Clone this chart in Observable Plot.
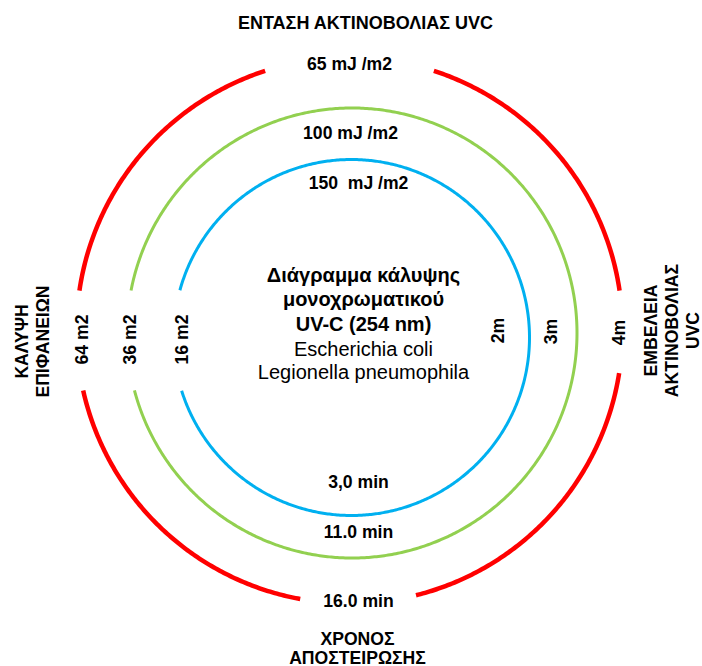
<!DOCTYPE html>
<html><head><meta charset="utf-8">
<script src="https://cdn.jsdelivr.net/npm/d3@7"></script>
<script src="https://cdn.jsdelivr.net/npm/@observablehq/plot@0.6"></script>
<style>html,body{margin:0;padding:0;background:#fff} svg{display:block}</style>
</head><body><div id="chart"></div>
<script>
// ---- data ----
const ringNames = ["2m", "3m", "4m"];
const ringColors = ["#00b0f0", "#92d050", "#ff0000"];
const doseLabels = ["150  mJ /m2", "100 mJ /m2", "65 mJ /m2"];
const timeLabels = ["3,0 min", "11.0 min", "16.0 min"];
const areaLabels = ["16 m2", "36 m2", "64 m2"];
const rangeLabels = ["2m", "3m", "4m"];
const topTitle = "ΕΝΤΑΣΗ ΑΚΤΙΝΟΒΟΛΙΑΣ UVC";
const bottomTitle = "ΧΡΟΝΟΣ\nΑΠΟΣΤΕΙΡΩΣΗΣ";
const leftTitle = "ΚΑΛΥΨΗ\nΕΠΙΦΑΝΕΙΩΝ";
const rightTitle = "ΕΜΒΕΛΕΙΑ\nΑΚΤΙΝΟΒΟΛΙΑΣ\nUVC";
const centerTitle = ["Διάγραμμα κάλυψης", "μονοχρωματικού", "UV-C (254 nm)"];
const centerOrganisms = ["Escherichia coli", "Legionella pneumophila"];

// ---- layout ----
const W = 702, H = 666;
const font = '"Liberation Sans", Arial, sans-serif';
const geom = [
  {cx: 351, cy: 337, r: 178, sw: 3, gaps: [[164.6, 197.4]]},
  {cx: 351.5, cy: 332.5, r: 225, sw: 3, gaps: [[169.1, 194.8]]},
  {cx: 349, cy: 330, r: 273, sw: 4.5, gaps: [[-9, 8.4], [72, 108], [171.6, 192.7], [259.6, 284.1]]}
];
function arcs(g, ringIndex) {
  const gaps = g.gaps.slice().sort((a, b) => a[0] - b[0]);
  const pts = [];
  gaps.forEach((gap, i) => {
    const s = gap[1];
    const e = i + 1 < gaps.length ? gaps[i + 1][0] : gaps[0][0] + 360;
    const seg = ringIndex + "-" + i;
    const n = Math.ceil((e - s) / 0.5);
    for (let k = 0; k <= n; k++) {
      const a = (s + (e - s) * k / n) * Math.PI / 180;
      pts.push({seg, x: g.cx + g.r * Math.cos(a), y: g.cy - g.r * Math.sin(a)});
    }
  });
  return pts;
}
const doseX = [358, 350, 349], doseY = [183, 133, 64];
const timeX = [358, 358, 358], timeY = [482, 532, 601];
const areaX = [182, 130, 82], areaY = [339, 339, 339];
const rangeX = [498, 551, 619], rangeY = [330, 331, 332];

const bold = {fontWeight: "bold", fontSize: 17.6, fill: "#000"};

const chart = Plot.plot({
  width: W, height: H, margin: 0,
  x: {domain: [0, W], range: [0, W], axis: null},
  y: {domain: [0, H], range: [0, H], axis: null},
  style: {fontFamily: font, background: "#fff"},
  marks: [
    ...geom.map((g, i) => Plot.line(arcs(g, i), {
      x: "x", y: "y", z: "seg", stroke: ringColors[i], strokeWidth: g.sw, strokeLinecap: "butt"
    })),
    Plot.text([topTitle], {x: () => 365, y: () => 23, text: d => d, ...bold, fontSize: 18}),
    Plot.text([bottomTitle], {x: () => 357, y: () => 648, text: d => d, lineHeight: 1.1, ...bold}),
    Plot.text([leftTitle], {x: () => 31, y: () => 341, text: d => d, rotate: -90, lineHeight: 1.2, ...bold}),
    Plot.text([rightTitle], {x: () => 671, y: () => 330, text: d => d, rotate: -90, lineHeight: 1.2, ...bold}),
    Plot.text(doseLabels, {x: (d, i) => doseX[i], y: (d, i) => doseY[i], text: d => d, ...bold}),
    Plot.text(timeLabels, {x: (d, i) => timeX[i], y: (d, i) => timeY[i], text: d => d, ...bold}),
    Plot.text(areaLabels, {x: (d, i) => areaX[i], y: (d, i) => areaY[i], text: d => d, rotate: -90, ...bold}),
    Plot.text(rangeLabels, {x: (d, i) => rangeX[i], y: (d, i) => rangeY[i], text: d => d, rotate: -90, ...bold}),
    Plot.text(centerTitle, {x: () => 363, y: (d, i) => 275 + i * 24.5, text: d => d, fontWeight: "bold", fontSize: 20, fill: "#000"}),
    Plot.text(centerOrganisms, {x: () => 363, y: (d, i) => 349 + i * 23.5, text: d => d, fontWeight: "normal", fontSize: 20, fill: "#000"})
  ]
});
document.getElementById("chart").appendChild(chart);
</script>
</body></html>
